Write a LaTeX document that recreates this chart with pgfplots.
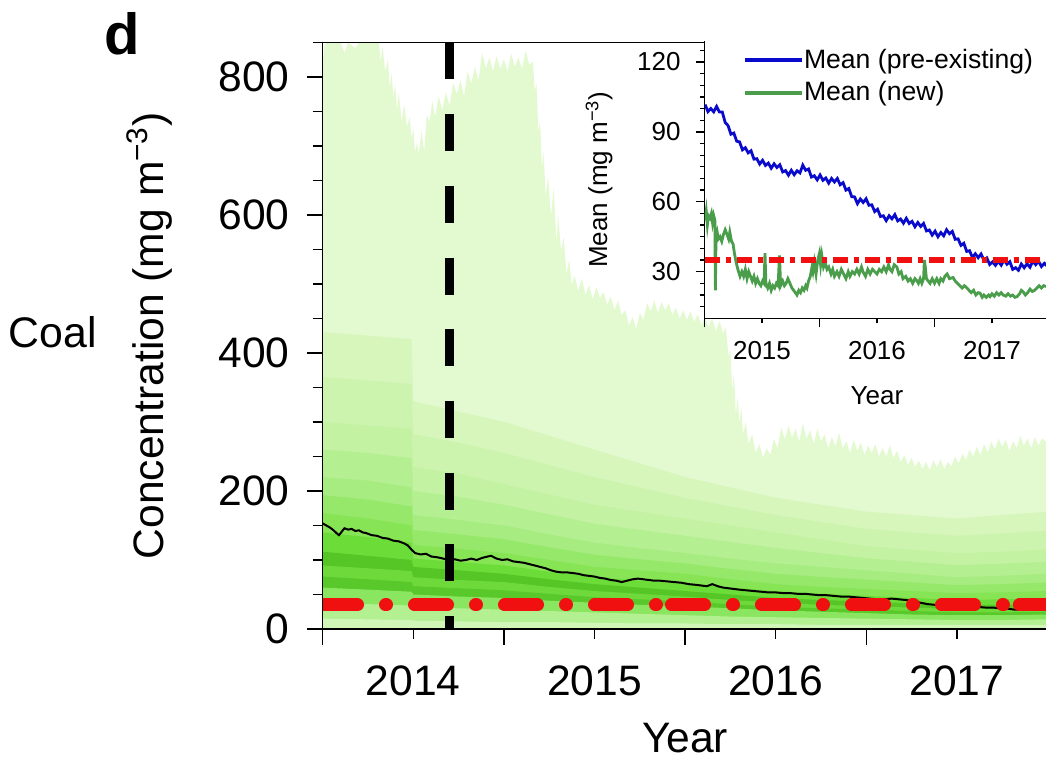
\documentclass[border=0pt]{standalone}
\usepackage{fontspec}
\setmainfont{Liberation Sans}
\usepackage{pgfplots}
\pgfplotsset{compat=1.18}
\definecolor{cA}{HTML}{E3F9CF}
\definecolor{cB}{HTML}{D6F6BB}
\definecolor{cBC}{HTML}{CCF4AE}
\definecolor{cC}{HTML}{C3F2A2}
\definecolor{cCD}{HTML}{B4EF91}
\definecolor{cD}{HTML}{A6EC80}
\definecolor{cDE}{HTML}{96E86A}
\definecolor{cE}{HTML}{86E455}
\definecolor{cF}{HTML}{6CDC38}
\definecolor{cG}{HTML}{55C626}
\definecolor{cH}{HTML}{6ED93A}
\definecolor{cI}{HTML}{58C82A}
\definecolor{cJ}{HTML}{8AE660}
\definecolor{cK}{HTML}{B2F092}
\definecolor{cL}{HTML}{D0F7B8}
\definecolor{myred}{RGB}{240,16,16}
\definecolor{myblue}{RGB}{10,10,205}
\definecolor{mygreen}{RGB}{74,157,74}
\begin{document}
\begin{tikzpicture}
\begin{axis}[
  at={(161.35pt,65.5pt)}, anchor=south west,
  scale only axis, width=362.4pt, height=293.3pt,
  xmin=2013.5, xmax=2017.5, ymin=0, ymax=850,
  axis on top, clip=true,
  tick align=outside, xtick pos=bottom, ytick pos=left,
  major tick length=8pt, minor tick length=5pt,
  xtick={2013.5,2014.5,2015.5,2016.5,2017.5}, xticklabels={},
  extra x ticks={2014,2015,2016,2017},
  extra x tick labels={2014,2015,2016,2017},
  extra x tick style={major tick length=5pt},
  ytick={0,200,400,600,800},
  minor ytick={50,100,150,250,300,350,450,500,550,650,700,750,850},
  axis line style={line width=0.7pt},
  tick style={line width=0.7pt, black},
  tick label style={font=\fontsize{21.3}{25}\selectfont},
  x tick label style={yshift=-10pt},
  y tick label style={xshift=-5pt},
  /pgf/number format/assume math mode=true,
  xlabel={Year},
  xlabel style={font=\fontsize{21.3}{25}\selectfont, at={(axis description cs:0.5,0)}, anchor=base, yshift=-62pt},
  ylabel={Concentration (mg m\textsuperscript{−3})},
  ylabel style={font=\fontsize{21.3}{25}\selectfont, at={(axis description cs:-0.2203,0.5)}, anchor=base},
]
% outer envelope
\addplot[fill=cA, draw=none] coordinates {
(2013.5,820) (2013.51,845) (2013.52,850) (2013.6,850) (2013.62,835) (2013.64,850) (2013.68,842) (2013.7,850) (2013.81,850) (2013.82,822) (2013.83,845) (2013.845,808) (2013.86,825) (2013.87,785) (2013.88,805) (2013.89,770) (2013.9,790) (2013.91,752) (2013.92,778) (2013.935,735) (2013.95,760) (2013.965,728) (2013.98,742) (2013.99,712) (2014.0,725) (2014.01,690) (2014.02,705) (2014.03,688) (2014.045,722) (2014.06,692) (2014.075,745) (2014.09,735) (2014.105,765) (2014.12,742) (2014.14,772) (2014.16,752) (2014.18,778) (2014.2,758) (2014.22,792) (2014.24,775) (2014.26,795) (2014.28,772) (2014.3,808) (2014.32,790) (2014.34,815) (2014.36,795) (2014.38,835) (2014.4,812) (2014.42,828) (2014.44,808) (2014.46,830) (2014.48,812) (2014.5,826) (2014.52,808) (2014.54,834) (2014.56,815) (2014.58,828) (2014.6,812) (2014.62,838) (2014.64,818) (2014.66,822) (2014.67,780) (2014.68,790) (2014.69,720) (2014.7,735) (2014.71,670) (2014.72,690) (2014.73,628) (2014.745,655) (2014.76,598) (2014.775,640) (2014.79,560) (2014.8,600) (2014.815,548) (2014.83,568) (2014.845,515) (2014.86,535) (2014.875,498) (2014.89,512) (2014.91,490) (2014.93,508) (2014.95,484) (2014.97,498) (2014.99,478) (2015.01,495) (2015.03,480) (2015.05,488) (2015.07,470) (2015.09,482) (2015.11,462) (2015.13,476) (2015.15,455) (2015.17,462) (2015.19,440) (2015.21,452) (2015.23,435) (2015.25,458) (2015.27,448) (2015.29,472) (2015.31,460) (2015.33,476) (2015.35,458) (2015.37,474) (2015.39,462) (2015.41,472) (2015.43,455) (2015.45,466) (2015.47,450) (2015.49,462) (2015.51,448) (2015.53,460) (2015.55,445) (2015.57,456) (2015.59,440) (2015.61,452) (2015.63,438) (2015.65,450) (2015.67,432) (2015.69,446) (2015.71,428) (2015.725,438) (2015.74,395) (2015.75,405) (2015.76,345) (2015.77,370) (2015.78,310) (2015.79,335) (2015.8,298) (2015.81,322) (2015.82,282) (2015.835,300) (2015.85,268) (2015.87,282) (2015.89,255) (2015.91,268) (2015.93,248) (2015.95,262) (2015.97,252) (2015.99,275) (2016.01,262) (2016.03,292) (2016.05,275) (2016.07,295) (2016.09,278) (2016.11,290) (2016.13,272) (2016.15,298) (2016.17,276) (2016.19,288) (2016.21,268) (2016.23,290) (2016.25,272) (2016.27,282) (2016.29,262) (2016.31,278) (2016.33,265) (2016.35,284) (2016.37,262) (2016.39,272) (2016.41,255) (2016.43,274) (2016.45,258) (2016.47,270) (2016.49,252) (2016.51,266) (2016.53,255) (2016.55,268) (2016.57,250) (2016.59,262) (2016.61,250) (2016.63,266) (2016.65,248) (2016.67,258) (2016.69,242) (2016.71,252) (2016.73,238) (2016.75,248) (2016.77,235) (2016.79,244) (2016.81,232) (2016.83,242) (2016.85,230) (2016.87,245) (2016.89,234) (2016.91,246) (2016.93,232) (2016.95,242) (2016.97,236) (2016.99,250) (2017.01,240) (2017.03,254) (2017.05,245) (2017.07,260) (2017.09,250) (2017.11,264) (2017.13,252) (2017.15,268) (2017.17,256) (2017.19,272) (2017.21,260) (2017.23,276) (2017.25,264) (2017.27,274) (2017.29,258) (2017.31,272) (2017.33,262) (2017.35,280) (2017.37,266) (2017.39,276) (2017.41,262) (2017.43,278) (2017.45,266) (2017.47,276) (2017.5,270)
} \closedcycle;
\addplot[fill=cB, draw=none] coordinates {
(2013.5,430) (2013.75,425) (2013.99,420) (2014.0,330) (2014.25,315) (2014.5,300) (2014.75,280) (2015.0,260) (2015.25,240) (2015.5,220) (2015.75,205) (2016.0,190) (2016.25,180) (2016.5,170) (2016.75,165) (2017.0,160) (2017.25,165) (2017.5,170)
} \closedcycle;
\addplot[fill=cBC, draw=none] coordinates {
(2013.5,365) (2013.75,360) (2013.99,355) (2014.0,282.5) (2014.25,270) (2014.5,255) (2014.75,237.5) (2015.0,220) (2015.25,205) (2015.5,190) (2015.75,177.5) (2016.0,165) (2016.25,155) (2016.5,145) (2016.75,140) (2017.0,135) (2017.25,138.5) (2017.5,142.5)
} \closedcycle;
\addplot[fill=cC, draw=none] coordinates {
(2013.5,300) (2013.75,295) (2013.99,290) (2014.0,235) (2014.25,225) (2014.5,210) (2014.75,195) (2015.0,180) (2015.25,170) (2015.5,160) (2015.75,150) (2016.0,140) (2016.25,130) (2016.5,120) (2016.75,115) (2017.0,110) (2017.25,112) (2017.5,115)
} \closedcycle;
\addplot[fill=cCD, draw=none] coordinates {
(2013.5,260) (2013.75,255) (2013.99,247.5) (2014.0,200) (2014.25,191.5) (2014.5,180) (2014.75,166) (2015.0,152.5) (2015.25,143.5) (2015.5,135) (2015.75,126) (2016.0,117.5) (2016.25,110) (2016.5,102.5) (2016.75,97.5) (2017.0,92.5) (2017.25,94.5) (2017.5,97.5)
} \closedcycle;
\addplot[fill=cD, draw=none] coordinates {
(2013.5,220) (2013.75,215) (2013.99,205) (2014.0,165) (2014.25,158) (2014.5,150) (2014.75,137) (2015.0,125) (2015.25,117) (2015.5,110) (2015.75,102) (2016.0,95) (2016.25,90) (2016.5,85) (2016.75,80) (2017.0,75) (2017.25,77) (2017.5,80)
} \closedcycle;
\addplot[fill=cDE, draw=none] coordinates {
(2013.5,194) (2013.75,187.5) (2013.99,177.5) (2014.0,143.5) (2014.25,137) (2014.5,130) (2014.75,118.5) (2015.0,107.5) (2015.25,101) (2015.5,95) (2015.75,87) (2016.0,80) (2016.25,75.5) (2016.5,71.5) (2016.75,67.5) (2017.0,63.5) (2017.25,65) (2017.5,67.5)
} \closedcycle;
\addplot[fill=cE, draw=none] coordinates {
(2013.5,168) (2013.75,160) (2013.99,150) (2014.0,122) (2014.25,116) (2014.5,110) (2014.75,100) (2015.0,90) (2015.25,85) (2015.5,80) (2015.75,72) (2016.0,65) (2016.25,61) (2016.5,58) (2016.75,55) (2017.0,52) (2017.25,53) (2017.5,55)
} \closedcycle;
\addplot[fill=cF, draw=none] coordinates {
(2013.5,140) (2013.75,133) (2013.99,125) (2014.0,102) (2014.25,97) (2014.5,92) (2014.75,83) (2015.0,75) (2015.25,70) (2015.5,65) (2015.75,60) (2016.0,55) (2016.25,51) (2016.5,48) (2016.75,45) (2017.0,42) (2017.25,43) (2017.5,45)
} \closedcycle;
\addplot[fill=cG, draw=none] coordinates {
(2013.5,112) (2013.75,106) (2013.99,100) (2014.0,90) (2014.25,85) (2014.5,80) (2014.75,72) (2015.0,65) (2015.25,60) (2015.5,55) (2015.75,50) (2016.0,45) (2016.25,42) (2016.5,40) (2016.75,37) (2017.0,35) (2017.25,35) (2017.5,35)
} \closedcycle;
\addplot[fill=cH, draw=none] coordinates {
(2013.5,92) (2013.75,88) (2013.99,84) (2014.0,75) (2014.25,71) (2014.5,68) (2014.75,61) (2015.0,55) (2015.25,51) (2015.5,47) (2015.75,42) (2016.0,38) (2016.25,35) (2016.5,33) (2016.75,31) (2017.0,29) (2017.25,29) (2017.5,30)
} \closedcycle;
\addplot[fill=cI, draw=none] coordinates {
(2013.5,76) (2013.75,72) (2013.99,68) (2014.0,62) (2014.25,59) (2014.5,56) (2014.75,51) (2015.0,46) (2015.25,43) (2015.5,40) (2015.75,36) (2016.0,32) (2016.25,30) (2016.5,28) (2016.75,26) (2017.0,24) (2017.25,24) (2017.5,25)
} \closedcycle;
\addplot[fill=cJ, draw=none] coordinates {
(2013.5,60) (2013.75,57) (2013.99,54) (2014.0,50) (2014.25,47) (2014.5,45) (2014.75,41) (2015.0,38) (2015.25,35) (2015.5,33) (2015.75,30) (2016.0,27) (2016.25,25) (2016.5,23) (2016.75,21) (2017.0,20) (2017.25,20) (2017.5,21)
} \closedcycle;
\addplot[fill=cK, draw=none] coordinates {
(2013.5,38) (2013.75,36) (2013.99,34) (2014.0,32) (2014.25,30) (2014.5,28) (2014.75,26) (2015.0,24) (2015.25,22) (2015.5,20) (2015.75,18) (2016.0,17) (2016.25,16) (2016.5,15) (2016.75,14) (2017.0,13) (2017.25,13) (2017.5,14)
} \closedcycle;
\addplot[fill=cL, draw=none] coordinates {
(2013.5,15) (2013.75,14) (2013.99,13) (2014.0,12) (2014.25,11) (2014.5,10) (2014.75,10) (2015.0,9) (2015.25,8) (2015.5,8) (2015.75,7) (2016.0,7) (2016.25,6) (2016.5,6) (2016.75,6) (2017.0,6) (2017.25,6) (2017.5,6)
} \closedcycle;
% mean
\addplot[black, line width=1pt] coordinates {
(2013.5,153) (2013.52,150) (2013.54,147) (2013.56,143) (2013.58,138) (2013.59,136) (2013.605,141) (2013.62,146) (2013.64,144) (2013.66,145) (2013.68,142) (2013.7,143) (2013.72,140) (2013.74,139) (2013.77,136) (2013.8,135) (2013.83,132) (2013.86,131) (2013.89,128) (2013.92,127) (2013.95,124) (2013.97,121) (2013.99,115) (2014.01,110) (2014.04,108) (2014.07,109) (2014.1,105) (2014.13,104) (2014.15,103) (2014.18,101) (2014.2,100) (2014.23,101) (2014.26,99) (2014.29,100) (2014.32,102) (2014.35,100) (2014.38,103) (2014.41,105) (2014.43,106) (2014.46,102) (2014.49,100) (2014.52,101) (2014.55,98) (2014.58,97) (2014.61,96) (2014.64,94) (2014.67,92) (2014.7,90) (2014.73,88) (2014.76,85) (2014.79,83) (2014.82,82) (2014.85,82) (2014.88,81) (2014.91,80) (2014.94,78) (2014.97,77) (2015.0,76) (2015.03,74) (2015.06,73) (2015.09,71) (2015.12,70) (2015.15,68) (2015.18,70) (2015.21,72) (2015.24,73) (2015.27,72) (2015.3,71) (2015.33,70) (2015.36,70) (2015.4,69) (2015.44,68) (2015.48,67) (2015.52,65) (2015.56,64) (2015.59,63) (2015.62,62) (2015.65,65) (2015.68,62) (2015.71,60) (2015.74,59) (2015.77,58) (2015.8,57) (2015.84,56) (2015.88,55) (2015.92,54) (2015.96,53) (2016.0,53) (2016.04,52) (2016.08,52) (2016.12,51) (2016.16,51) (2016.2,50) (2016.24,49) (2016.28,49) (2016.32,48) (2016.36,47) (2016.4,47) (2016.44,46) (2016.48,45) (2016.52,44) (2016.56,43) (2016.6,43) (2016.64,44) (2016.68,43) (2016.72,42) (2016.76,40) (2016.8,38) (2016.84,36) (2016.88,35) (2016.92,35) (2016.96,35) (2017.0,34) (2017.04,34) (2017.08,33) (2017.12,32) (2017.16,31) (2017.2,31) (2017.24,30) (2017.28,29.5) (2017.32,28) (2017.36,28) (2017.4,29) (2017.44,29) (2017.5,30)
};
\addplot[black, line width=4.5pt, dash pattern=on 18.5pt off 17.35pt] coordinates {(2014.2,850) (2014.2,0)};
\addplot[myred, line width=6.5pt, line cap=round, dash pattern=on 16.5pt off 14pt on 0.5pt off 14pt] coordinates {(2013.51,35) (2015.342,35)};
\addplot[myred, line width=6.5pt, line cap=round, dash pattern=on 16.5pt off 14pt on 0.5pt off 14pt] coordinates {(2015.425,35) (2017.257,35)};
\addplot[myred, line width=6.5pt, line cap=round, dash pattern=on 16.5pt off 14pt on 0.5pt off 14pt] coordinates {(2017.345,35) (2017.6,35)};
\end{axis}

\begin{axis}[
  at={(352.25pt,220.85pt)}, anchor=south west,
  scale only axis, width=172.5pt, height=138.65pt,
  xmin=2014.5, xmax=2017.5, ymin=10, ymax=129,
  axis x line*=bottom, axis y line*=left,
  axis background/.style={fill=white},
  tick align=outside,
  major tick length=4.5pt, minor tick length=2.5pt,
  xtick={2014.5,2015.5,2016.5,2017.5}, xticklabels={},
  extra x ticks={2015,2016,2017},
  extra x tick labels={2015,2016,2017},
  extra x tick style={major tick length=2.5pt},
  ytick={30,60,90,120},
  minor ytick={15,20,25,35,40,45,50,55,65,70,75,80,85,95,100,105,110,115,125},
  axis line style={line width=0.65pt},
  tick style={line width=0.65pt, black},
  tick label style={font=\fontsize{13}{15}\selectfont},
  x tick label style={yshift=-5.5pt},
  y tick label style={xshift=-4pt},
  /pgf/number format/assume math mode=true,
  xlabel={Year},
  xlabel style={font=\fontsize{13}{15}\selectfont, at={(axis description cs:0.5,0)}, anchor=base, yshift=-43.35pt},
  ylabel={Mean (mg m\textsuperscript{−3})},
  ylabel style={font=\fontsize{13}{15}\selectfont, at={(axis description cs:-0.2826,0.5)}, anchor=base},
  legend style={at={(0.1116,0.972)}, anchor=north west, draw=none, fill=none, inner sep=0pt, outer sep=0pt,
    font=\fontsize{13.3}{15}\selectfont, row sep=5.3pt, nodes={inner sep=0pt},
    /tikz/every even column/.append style={column sep=6.5pt}},
  legend cell align=left,
  legend image code/.code={\draw[#1, line width=2pt] (0pt,0pt) -- (28.5pt,0pt);},
]
\addplot[myblue, line width=1.4pt] coordinates {
(2014.505,101.7) (2014.53,98.7) (2014.555,100.0) (2014.58,98.6) (2014.605,100.9) (2014.63,98.5) (2014.655,98.5) (2014.68,94.0) (2014.705,92.7) (2014.73,89.0) (2014.755,89.5) (2014.78,86.0) (2014.805,85.7) (2014.83,82.3) (2014.855,83.2) (2014.88,81.0) (2014.905,81.9) (2014.93,78.3) (2014.955,78.5) (2014.98,76.2) (2015.005,77.8) (2015.03,75.6) (2015.055,76.6) (2015.08,74.4) (2015.105,76.3) (2015.13,74.7) (2015.155,75.9) (2015.18,72.8) (2015.205,73.4) (2015.23,71.4) (2015.255,73.5) (2015.28,71.6) (2015.305,73.3) (2015.33,72.4) (2015.355,75.7) (2015.38,73.5) (2015.405,74.1) (2015.43,70.6) (2015.455,71.2) (2015.48,69.4) (2015.505,71.5) (2015.53,69.2) (2015.555,70.2) (2015.58,68.0) (2015.605,70.0) (2015.63,68.5) (2015.655,70.0) (2015.68,67.3) (2015.705,68.2) (2015.73,65.0) (2015.755,65.7) (2015.78,62.2) (2015.805,62.1) (2015.83,59.2) (2015.855,61.2) (2015.88,59.7) (2015.905,61.3) (2015.93,58.5) (2015.955,58.7) (2015.98,55.8) (2016.005,56.8) (2016.03,53.7) (2016.055,54.0) (2016.08,51.9) (2016.105,54.0) (2016.13,52.7) (2016.155,54.5) (2016.18,51.8) (2016.205,52.6) (2016.23,50.8) (2016.255,52.9) (2016.28,50.7) (2016.305,51.6) (2016.33,49.3) (2016.355,51.1) (2016.38,49.4) (2016.405,50.7) (2016.43,47.5) (2016.455,47.9) (2016.48,45.7) (2016.505,47.4) (2016.53,45.0) (2016.555,46.8) (2016.58,45.4) (2016.605,48.0) (2016.63,46.3) (2016.655,47.3) (2016.68,43.9) (2016.705,44.1) (2016.73,41.3) (2016.755,42.2) (2016.78,38.7) (2016.805,39.0) (2016.83,36.1) (2016.855,37.7) (2016.88,36.0) (2016.905,37.6) (2016.93,34.9) (2016.955,35.9) (2016.98,33.1) (2017.005,34.2) (2017.03,32.7) (2017.055,34.5) (2017.08,32.8) (2017.105,35.0) (2017.13,33.2) (2017.155,34.3) (2017.18,31.0) (2017.205,31.7) (2017.23,30.6) (2017.255,33.3) (2017.28,31.7) (2017.305,33.4) (2017.33,31.9) (2017.355,34.5) (2017.38,33.0) (2017.405,34.5) (2017.43,32.2) (2017.455,33.6) (2017.48,32.4)
};
\addlegendentry{Mean (pre-existing)}
\addplot[mygreen, line width=1.4pt] coordinates {
(2014.504,52) (2014.515,56) (2014.525,50) (2014.535,54) (2014.548,53) (2014.56,55) (2014.57,51) (2014.58,54) (2014.59,52) (2014.595,22) (2014.6,45) (2014.61,47) (2014.62,44) (2014.635,45) (2014.65,43) (2014.665,46) (2014.68,48) (2014.696,46) (2014.71,44) (2014.72,47) (2014.735,43) (2014.748,42) (2014.76,38) (2014.775,34) (2014.79,31) (2014.809,28) (2014.825,30) (2014.84,28) (2014.855,31) (2014.87,27) (2014.885,30) (2014.9,28) (2014.915,26) (2014.93,28) (2014.945,25) (2014.96,27) (2014.975,25) (2014.99,24) (2015.005,26) (2015.018,25) (2015.026,38) (2015.034,25) (2015.05,23) (2015.065,25) (2015.08,22) (2015.095,24) (2015.11,23) (2015.125,25) (2015.14,24) (2015.152,37) (2015.162,24) (2015.18,26) (2015.195,24) (2015.21,25) (2015.225,27) (2015.243,25) (2015.26,23) (2015.275,22) (2015.29,21) (2015.304,20) (2015.32,22) (2015.335,21) (2015.35,23) (2015.365,22) (2015.38,24) (2015.391,23) (2015.405,26) (2015.42,28) (2015.435,32) (2015.443,30) (2015.455,34) (2015.47,29) (2015.485,35) (2015.5,38) (2015.51,33) (2015.52,37) (2015.535,32) (2015.55,34) (2015.565,31) (2015.58,32) (2015.6,29) (2015.615,31) (2015.63,28) (2015.652,30) (2015.67,28) (2015.69,31) (2015.71,29) (2015.73,27) (2015.75,30) (2015.765,28) (2015.785,30) (2015.805,29) (2015.825,31) (2015.845,29) (2015.865,32) (2015.878,30) (2015.9,28) (2015.92,31) (2015.94,29) (2015.96,31) (2015.98,30) (2016.0,29) (2016.02,31) (2016.04,30) (2016.06,32) (2016.08,30) (2016.1,33) (2016.113,31) (2016.13,30) (2016.15,33) (2016.173,32) (2016.19,29) (2016.21,30) (2016.226,27) (2016.25,28) (2016.27,26) (2016.29,27) (2016.31,25) (2016.33,27) (2016.348,26) (2016.36,25) (2016.375,27) (2016.39,25) (2016.405,27) (2016.412,35) (2016.42,32) (2016.43,27) (2016.445,26) (2016.461,25) (2016.48,27) (2016.5,25) (2016.52,27) (2016.54,25) (2016.555,27) (2016.574,26) (2016.59,28) (2016.61,29) (2016.63,27) (2016.661,27.5) (2016.68,26) (2016.7,25) (2016.72,24) (2016.74,23) (2016.76,24) (2016.783,23) (2016.8,22) (2016.82,21) (2016.84,22) (2016.86,20) (2016.88,21) (2016.896,20.8) (2016.915,19) (2016.93,20) (2016.95,19) (2016.97,20) (2016.983,19.3) (2017.0,20.5) (2017.02,19.5) (2017.04,21) (2017.06,20) (2017.08,21) (2017.096,20) (2017.12,19.5) (2017.14,20.5) (2017.16,19.5) (2017.18,20) (2017.2,19) (2017.217,19.3) (2017.24,20.5) (2017.255,22) (2017.27,21.4) (2017.29,20) (2017.31,21) (2017.33,22.5) (2017.35,21.5) (2017.37,22) (2017.391,23) (2017.41,24) (2017.43,23) (2017.45,24) (2017.47,23.6)
};
\addlegendentry{Mean (new)}
\addplot[myred, line width=2.6pt, dash pattern=on 7.5pt off 3pt on 2.5pt off 3pt, forget plot] coordinates {(2014.5,35) (2017.6,35)};
\end{axis}

\node[anchor=base west, inner sep=0pt, font=\fontsize{29}{32}\selectfont\bfseries] at (52pt,352.5pt) {d};
\node[anchor=base west, inner sep=0pt, font=\fontsize{21.4}{25}\selectfont] at (4.2pt,206pt) {Coal};
\pgfresetboundingbox
\path[use as bounding box] (0,0) rectangle (523pt,380pt);
\end{tikzpicture}
\end{document}
